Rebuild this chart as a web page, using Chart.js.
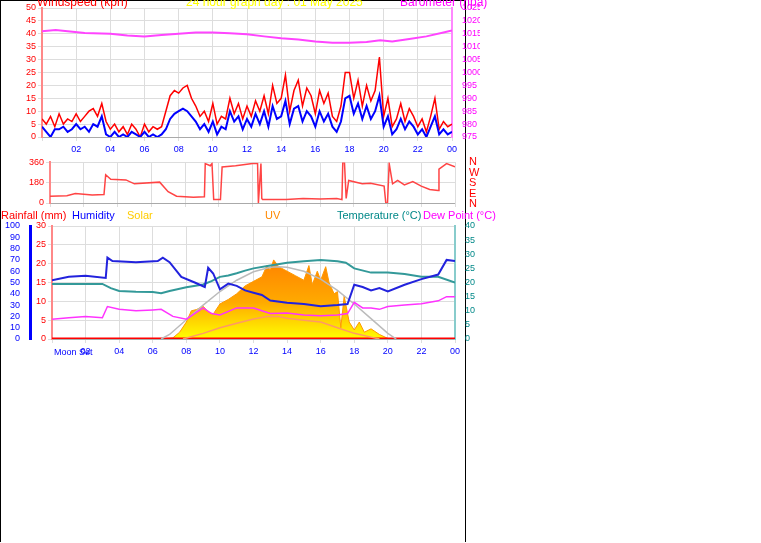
<!DOCTYPE html>
<html><head><meta charset="utf-8">
<script src="https://cdn.jsdelivr.net/npm/chart.js@4/dist/chart.umd.min.js"></script>
<style>
body{margin:0;background:#fff;font-family:"Liberation Sans",Arial,sans-serif;}
#frame{position:absolute;left:0;top:0;width:464px;height:541px;border-left:1px solid #000;border-right:1px solid #000;border-top:1px solid #000;}
.c{position:absolute;}
.t{position:absolute;font-size:11px;white-space:nowrap;}
.h{font-size:12px;}
</style></head><body>
<div id="frame"></div>
<div class="c" style="left:0;top:0;width:480px;height:160px"><canvas id="wind"></canvas></div>
<div class="c" style="left:0;top:155px;width:470px;height:60px"><canvas id="dir"></canvas></div>
<div class="c" style="left:0;top:215px;width:480px;height:150px"><canvas id="env"></canvas></div>
<div class="t h" style="left:37px;top:-5px;color:#f00">Windspeed (kph)</div>
<div class="t h" style="left:186px;top:-5px;color:#ff0">24 hour graph day : 01 May 2025</div>
<div class="t h" style="left:400px;top:-5px;color:#f0f">Barometer (hpa)</div>
<div class="t" style="left:469px;top:156px;color:#f00;line-height:10.5px">N<br>W<br>S<br>E<br>N</div>
<div class="t" style="left:1px;top:209px;color:#f00">Rainfall (mm)</div>
<div class="t" style="left:72px;top:209px;color:#00f">Humidity</div>
<div class="t" style="left:127px;top:209px;color:#fc0">Solar</div>
<div class="t" style="left:265px;top:209px;color:#f80">UV</div>
<div class="t" style="left:337px;top:209px;color:#088">Temperature (°C)</div>
<div class="t" style="left:423px;top:209px;color:#f0f">Dew Point (°C)</div>
<div class="t" style="left:54px;top:347px;color:#00f;font-size:9px">Moon Set</div>
<script>
const gust = [7,5,8,4, 9,5,7,6, 9,6,8,10, 11,8,13,6, 3,5,2,4, 1,5,3,0, 5,2,4,3, 4,10,16,18,
  17,19,20,15, 12,8,10,6, 13,5,8,7, 15,9,13,7, 12,8,14,10, 16,9,20,13, 15,24,10,18, 22,12,19,16,
  9,18,13,17, 8,6,12,25, 25,15,22,12, 20,14,18,31, 8,15,4,7, 13,6,11,8, 4,7,2,8, 15,3,6,4, 5];
const avgWind = [4,2,0,3, 3,4,2,3, 5,3,4,2, 5,4,8,1, 0,2,0,1, 0,2,1,0, 2,0,1,0, 1,3,7,9,
  10,11,10,8, 6,3,5,2, 6,1,4,3, 10,6,8,3, 7,4,9,5, 10,4,12,7, 8,14,5,11, 12,6,10,8,
  4,10,6,9, 4,2,6,15, 16,9,13,7, 12,7,10,16, 4,8,1,3, 7,3,6,4, 1,3,0,4, 8,1,3,1, 2];
const baroTimes = [0,0.8,1.5,2.5,4,5,6,7,8,9,10,11,12,13,14,15,16,17,18,19,19.8,20.5,21.5,22.5,23.5,24];
const baroValues = [1016,1016.5,1016,1015.3,1015,1014.3,1014,1014.5,1015,1015.5,1015.5,1015.2,1014.8,1014,1013.3,1012.8,1012,1011.5,1011.5,1011.8,1012.5,1012,1013,1014,1015.5,1016.3];
const dirTimes = [0,1,1.5,2.5,3.2,3.3,3.6,4.5,5,6.5,7,7.5,8.5,9.15,9.2,9.5,9.6,9.7,10.1,10.2,11,12,12.3,12.35,12.5,12.55,12.6,14,15,16,17,17.3,17.35,17.45,17.55,17.7,18.5,19,19.8,19.9,20,20.1,20.3,20.6,21,21.5,22,22.5,23,23.05,23.5,24];
const dirValues = [60,65,85,70,75,250,210,205,170,185,100,60,50,55,350,330,350,30,30,320,330,350,350,0,350,40,30,30,40,35,40,30,360,360,40,200,170,175,150,0,0,350,170,200,160,190,150,120,110,300,350,320];
const humTimes = [0,1,2,3.2,3.3,3.6,5,6.3,6.6,7,7.7,8.5,9.1,9.3,9.6,10,10.5,11,11.5,12,12.5,13,14,15,16,17,17.6,18,18.5,19,19.5,20,21,22,23,23.5,24];
const humValues = [52,55,56,54,72,69,68,69,72,68,55,50,46,63,58,44,49,47,43,41,39,34,32,31,29,30,31,48,46,43,45,42,48,53,57,70,69];
const tempTimes = [0,1,2,3,3.5,4,5,6,6.5,7,8,9,9.5,10,10.5,11,11.5,12,13,14,15,16,17,17.5,18,19,20,21,22,23,24];
const tempValues = [19.5,19.5,19.5,19.5,18,17,16.7,16.6,16.2,17,18.3,19.3,20.5,22,22.5,23.3,24.2,25,26,27,27.5,28,27.5,27,25,23.5,23.5,23,22,22,20];
const dewTimes = [0,1,2,3,3.3,4,5,6,6.5,7.2,8,9,9.5,10,11,12,13,14,15,16,17,17.6,18,18.5,19,19.5,20,21,22,23,23.5,24];
const dewValues = [7,7.5,8,7.5,11.5,10.5,10,10.3,10.5,8,7,11,9,8.5,11,11,9,9.2,8.5,8.2,8.5,9,13,11,11,10.5,11.5,12,12.5,13.5,15,15];
const solarTimes = [0,6.5,7.2,7.6,8,8.3,8.6,9,9.3,9.6,10,10.5,11,11.5,12,12.5,12.8,13,13.2,13.5,14,14.5,15,15.3,15.5,15.8,16,16.3,16.5,16.8,17,17.2,17.4,17.7,18,18.3,18.6,19,19.5,20,20.3,24];
const solarValues = [0,0,10,60,150,250,260,290,240,220,310,350,400,470,510,550,650,610,700,640,600,560,520,650,480,600,520,640,500,400,420,100,380,150,80,150,60,90,40,5,0,0];
const maxSolarTimes = [6.5,7,8,9,10,11,12,13,13.5,14,15,16,17,18,19,20,20.5];
const maxSolarValues = [0,40,170,300,420,520,595,635,640,635,600,530,430,310,180,50,0];
const uvTimes = [7.8,9,10,11,12,12.8,13.5,14,15,16,17,18,19,19.5];
const uvValues = [0,1.5,3,4.2,5.3,6,6,5.5,5,4.5,3,1.5,0.5,0];
const rainTimes = [0,24];
const rainValues = [0,0];

const pts = (t, v) => t.map((x, i) => ({x, y: v[i]}));
const qTimes = gust.map((_, i) => i / 4);
const grid = {color: '#ddd', borderDash: [1, 2], tickLength: 4};
const hourTick = v => (v === 0 ? '' : String(v % 24).padStart(2, '0'));
const fitW = w => s => { s.width = w; };
const fitH = h => s => { s.height = h; };
const font = {family: 'Liberation Sans', size: 9};
const base = {
  responsive: true, maintainAspectRatio: false, animation: false,
  plugins: {legend: {display: false}, tooltip: {enabled: false}},
  elements: {point: {radius: 0}, line: {tension: 0}}
};
const yTicks = (step, color) => ({stepSize: step, autoSkip: false, maxTicksLimit: 30, color, font, padding: 2,
  callback: v => String(v)});
const xAxis = (h, show) => ({type: 'linear', min: 0, max: 24, grid, border: {color: '#aaa'},
  afterFit: fitH(h), ticks: {display: show, stepSize: 2, autoSkip: false, color: '#00f', font, callback: hourTick}});

new Chart(document.getElementById('wind'), {
  type: 'line',
  data: {datasets: [
    {data: pts(baroTimes, baroValues), yAxisID: 'yB', borderColor: '#f4f', borderWidth: 2},
    {data: pts(qTimes, avgWind), yAxisID: 'y', borderColor: '#00f', borderWidth: 2},
    {data: pts(qTimes, gust), yAxisID: 'y', borderColor: '#f00', borderWidth: 1.5, order: 2}
  ]},
  options: {...base, layout: {padding: {top: 8}},
    scales: {
      x: xAxis(23, true),
      y: {min: 0, max: 50, position: 'left', afterFit: fitW(42), grid,
        border: {color: '#f88', width: 2}, ticks: yTicks(5, '#f00')},
      yB: {min: 975, max: 1025, position: 'right', afterFit: fitW(28), grid: {display: false},
        border: {color: '#f8f', width: 2}, ticks: yTicks(5, '#f0f')}
    }}
});

new Chart(document.getElementById('dir'), {
  type: 'line',
  data: {datasets: [{data: pts(dirTimes, dirValues), borderColor: '#f44', borderWidth: 1.5}]},
  options: {...base, layout: {padding: {top: 7}},
    scales: {
      x: xAxis(12, false),
      y: {min: 0, max: 360, position: 'left', afterFit: fitW(50), grid,
        border: {color: '#f88', width: 2}, ticks: yTicks(180, '#f00')},
      yR: {min: 0, max: 360, position: 'right', afterFit: fitW(15), display: true,
        grid: {display: false}, border: {color: '#ddd'}, ticks: {display: false}}
    }}
});

new Chart(document.getElementById('env'), {
  type: 'line',
  data: {datasets: [
    {data: pts(humTimes, humValues), yAxisID: 'yH', borderColor: '#22d', borderWidth: 2},
    {data: pts(tempTimes, tempValues), yAxisID: 'yT', borderColor: '#399', borderWidth: 2},
    {data: pts(dewTimes, dewValues), yAxisID: 'yT', borderColor: '#f3f', borderWidth: 1.5},
    {data: pts(maxSolarTimes, maxSolarValues), yAxisID: 'yS', borderColor: '#bbb', borderWidth: 1.5},
    {data: pts(uvTimes, uvValues), yAxisID: 'yR', borderColor: '#f96', borderWidth: 1.5},
    {data: pts(rainTimes, rainValues), yAxisID: 'yR', borderColor: '#f00', borderWidth: 3},
    {data: pts(solarTimes, solarValues), yAxisID: 'yS', borderColor: '#f90', borderWidth: 1,
      fill: 'origin', order: 5,
      backgroundColor: c => {
        const a = c.chart.chartArea; if (!a) return '#fc0';
        const g = c.chart.ctx.createLinearGradient(0, a.bottom, 0, a.top + 40);
        g.addColorStop(0, '#ff0'); g.addColorStop(0.5, '#fa0'); g.addColorStop(1, '#f80');
        return g;
      }}
  ]},
  options: {...base, layout: {padding: {top: 11}},
    scales: {
      x: xAxis(26, true),
      yR: {min: 0, max: 30, position: 'left', afterFit: fitW(22), grid,
        border: {color: '#f88', width: 2}, ticks: yTicks(5, '#f00')},
      yH: {min: 0, max: 100, position: 'left', afterFit: fitW(30), grid: {display: false},
        border: {color: '#00f', width: 3}, ticks: yTicks(10, '#00f')},
      yT: {min: 0, max: 40, position: 'right', afterFit: fitW(25), grid: {display: false},
        border: {color: '#8cc', width: 2}, ticks: yTicks(5, '#088')},
      yS: {min: 0, max: 1000, display: false}
    }}
});
</script>
</body></html>
